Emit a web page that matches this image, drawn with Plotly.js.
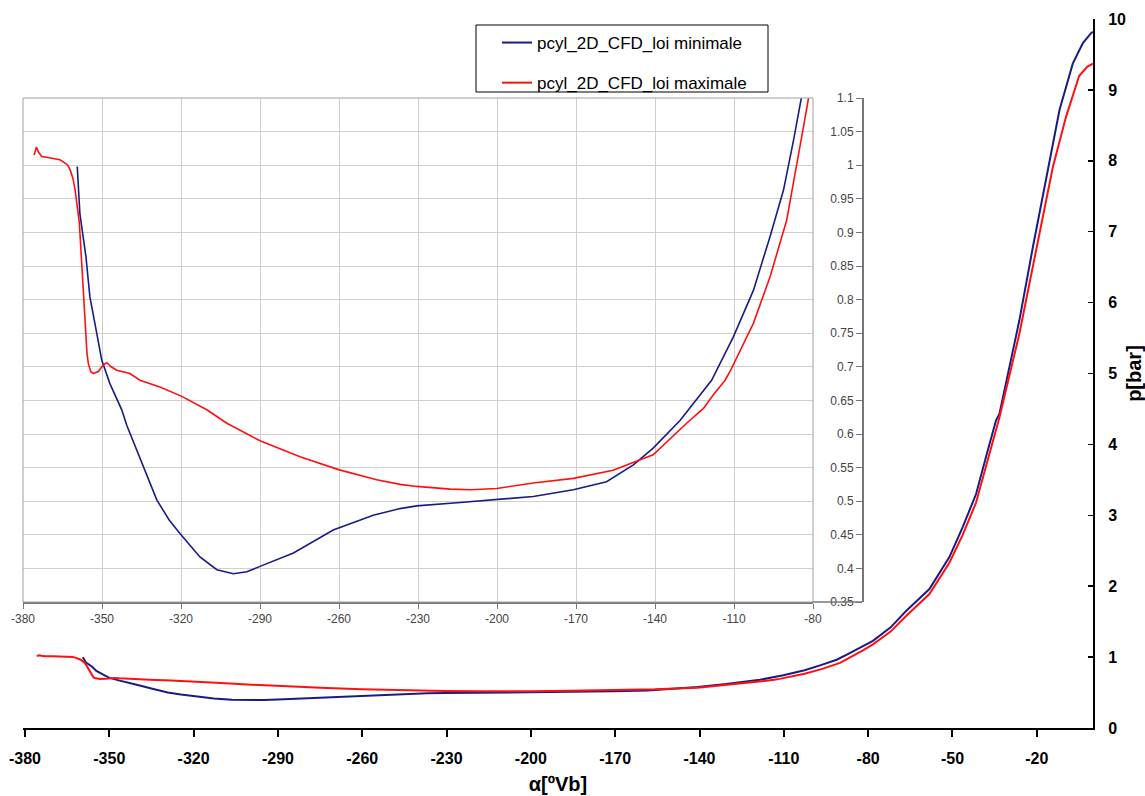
<!DOCTYPE html>
<html><head><meta charset="utf-8">
<script src="https://cdn.plot.ly/plotly-3.0.1.min.js"></script>
<style>html,body{margin:0;padding:0;background:#fff}#chart{width:1145px;height:796px}</style>
</head><body><div id="chart"></div><script>
// Crank angle [°Vb] and cylinder pressure [bar]
const angleMin = [-359.4,-358.4,-356.1,-354.6,-352,-350.1,-347,-342.5,-340.6,-334.3,-329.2,-324.5,-320.4,-312.8,-306.4,-300.1,-295,-290,-277.3,-262.2,-247,-236.8,-230.5,-214,-200.1,-186.2,-171,-158.4,-148.2,-140.7,-130.5,-125.4,-118.5,-110.2,-102.6,-96.3,-91.2,-87.4,-84.3,-78.3,-72,-66.5,-58.2,-51.1,-46.4,-41.6,-38.1,-34.5,-33.3,-26.2,-21.4,-16.7,-11.9,-7.2,-3.6,-0.7,0];
const pMin = [0.998,0.928,0.864,0.804,0.75,0.71,0.675,0.636,0.613,0.551,0.502,0.472,0.452,0.417,0.398,0.392,0.395,0.403,0.423,0.457,0.479,0.489,0.493,0.498,0.503,0.507,0.517,0.529,0.554,0.579,0.62,0.645,0.68,0.745,0.814,0.894,0.963,1.037,1.1,1.23,1.42,1.65,1.96,2.41,2.83,3.30,3.82,4.34,4.43,5.75,6.78,7.73,8.72,9.37,9.66,9.80,9.82];

const angleMax = [-375.8,-375.4,-374.9,-374.2,-372.9,-370,-368.5,-366,-364.7,-363,-362.1,-361,-360.2,-358.6,-357.7,-356.5,-355.7,-355.2,-354.3,-353.3,-351.4,-349.5,-348.2,-346.5,-344.4,-339.4,-335.6,-328,-319.7,-310.2,-302.6,-290,-274.8,-260.2,-245.7,-236.8,-230.5,-217.8,-210,-200.1,-186.2,-171,-155.9,-140.7,-128,-121.6,-117.9,-113.4,-111.5,-102.6,-96.3,-90,-86.2,-83.4,-81.7,-78.3,-72,-66.5,-58.2,-51.1,-46.4,-41.6,-38.1,-33.3,-26.2,-19.1,-14.3,-9.6,-4.9,-2,0];
const pMax = [1.015,1.022,1.027,1.02,1.013,1.011,1.01,1.008,1.005,1.0,0.993,0.98,0.963,0.914,0.854,0.765,0.72,0.705,0.693,0.69,0.693,0.703,0.706,0.7,0.695,0.69,0.68,0.67,0.656,0.636,0.616,0.59,0.566,0.547,0.532,0.525,0.522,0.518,0.517,0.519,0.527,0.534,0.546,0.569,0.616,0.638,0.658,0.68,0.693,0.765,0.834,0.918,0.998,1.062,1.1,1.18,1.36,1.58,1.89,2.33,2.72,3.18,3.68,4.38,5.56,6.97,7.91,8.62,9.2,9.33,9.37];

const mainXTicks = [-380,-350,-320,-290,-260,-230,-200,-170,-140,-110,-80,-50,-20];
const mainXLabels = ['-380','-350','-320','-290','-260','-230','-200','-170','-140','-110','-80','-50','-20'];
const mainYTicks = [0,1,2,3,4,5,6,7,8,9,10];
const insetXTicks = [-380,-350,-320,-290,-260,-230,-200,-170,-140,-110,-80];
const insetXLabels = ['-380','-350','-320','-290','-260','-230','-200','-170','-140','-110','-80'];
const insetYTicks = [0.35,0.4,0.45,0.5,0.55,0.6,0.65,0.7,0.75,0.8,0.85,0.9,0.95,1,1.05,1.1];
const insetYLabels = ['0.35','0.4','0.45','0.5','0.55','0.6','0.65','0.7','0.75','0.8','0.85','0.9','0.95','1','1.05','1.1'];

const nameMin = 'pcyl_2D_CFD_loi minimale';
const nameMax = 'pcyl_2D_CFD_loi maximale';
const blue = '#1b1b86';
const red = '#ff1010';
const FONT = 'Arial, "Liberation Sans", sans-serif';

// pixel helpers (plot area: x 23..1093, y 19..728)
const W = 1145, H = 796, L = 23, R = 1093, T = 19, B = 728;
const px = v => (v - L) / (R - L);
const py = v => (B - v) / (B - T);

const traces = [
  {x: angleMin, y: pMin, xaxis: 'x', yaxis: 'y', mode: 'lines', name: nameMin,
   line: {color: blue, width: 2}, legendgroup: 'a'},
  {x: angleMax, y: pMax, xaxis: 'x', yaxis: 'y', mode: 'lines', name: nameMax,
   line: {color: red, width: 2}, legendgroup: 'b'},
  {x: angleMin, y: pMin, xaxis: 'x2', yaxis: 'y2', mode: 'lines', showlegend: false,
   line: {color: blue, width: 1.6}},
  {x: angleMax, y: pMax, xaxis: 'x2', yaxis: 'y2', mode: 'lines', showlegend: false,
   line: {color: red, width: 1.6}}
];

const layout = {
  width: W, height: H,
  margin: {l: L, r: W - R, t: T, b: H - B, pad: 0},
  paper_bgcolor: '#ffffff', plot_bgcolor: '#ffffff',
  font: {family: FONT, color: '#000'},
  showlegend: true,
  legend: {x: px(497), y: py(25), xanchor: 'left', yanchor: 'top',
    bgcolor: 'rgba(0,0,0,0)', borderwidth: 0, font: {size: 17, family: FONT, color: '#000'},
    tracegroupgap: 15},
  xaxis: {domain: [0, 1], anchor: 'y', range: [-380.7, 0],
    tickmode: 'array', tickvals: mainXTicks, ticktext: mainXLabels,
    ticks: 'outside', ticklen: 7, tickwidth: 2, tickcolor: '#000',
    showline: true, linewidth: 2, linecolor: '#000', showgrid: false, zeroline: false,
    tickfont: {size: 16, family: FONT, weight: 'bold', color: '#000'}, ticklabelstandoff: 8,
    title: {text: 'α[ºVb]', font: {size: 20, family: FONT, weight: 'bold', color: '#000'}, standoff: 11}},
  yaxis: {domain: [0, 1], anchor: 'x', side: 'right', range: [0, 10],
    tickmode: 'array', tickvals: mainYTicks,
    ticks: 'inside', ticklen: 5, tickwidth: 1.5, tickcolor: '#000',
    showline: true, linewidth: 2, linecolor: '#000', showgrid: false, zeroline: false,
    tickfont: {size: 16, family: FONT, weight: 'bold', color: '#000'}, ticklabelstandoff: 10,
    title: {text: 'p[bar]', font: {size: 20, family: FONT, weight: 'bold', color: '#000'}, standoff: 2}},
  xaxis2: {domain: [0, px(813)], anchor: 'y2', range: [-380, -80],
    tickmode: 'array', tickvals: insetXTicks, ticktext: insetXLabels,
    ticks: 'outside', ticklen: 5, tickwidth: 1, tickcolor: '#777',
    showline: true, linewidth: 1.5, linecolor: '#777', showgrid: true, gridcolor: '#cfcfcf', gridwidth: 1,
    zeroline: false, tickfont: {size: 12, family: FONT, color: '#444'}},
  yaxis2: {domain: [py(602), py(98)], anchor: 'free', position: px(862), side: 'left', range: [0.35, 1.1],
    tickmode: 'array', tickvals: insetYTicks, ticktext: insetYLabels,
    ticks: 'outside', ticklen: 6, tickwidth: 1, tickcolor: '#777',
    showline: true, linewidth: 1.5, linecolor: '#777', showgrid: true, gridcolor: '#cfcfcf', gridwidth: 1,
    zeroline: false, tickfont: {size: 12, family: FONT, color: '#444'}},
  shapes: [
    {type: 'rect', xref: 'x2 domain', yref: 'y2 domain', x0: 0, x1: 1, y0: 0, y1: 1,
     line: {color: '#a0a0a0', width: 1}, fillcolor: 'rgba(0,0,0,0)', layer: 'above'},
    {type: 'line', xref: 'paper', yref: 'y2 domain', x0: px(813), x1: px(862), y0: 0, y1: 0,
     line: {color: '#777', width: 1.5}},
    {type: 'rect', xref: 'paper', yref: 'paper', x0: px(476), x1: px(768), y0: py(92), y1: py(25),
     line: {color: '#000', width: 1}, fillcolor: '#ffffff', layer: 'above'}
  ]
};

Plotly.newPlot('chart', traces, layout, {staticPlot: true});
</script></body></html>
